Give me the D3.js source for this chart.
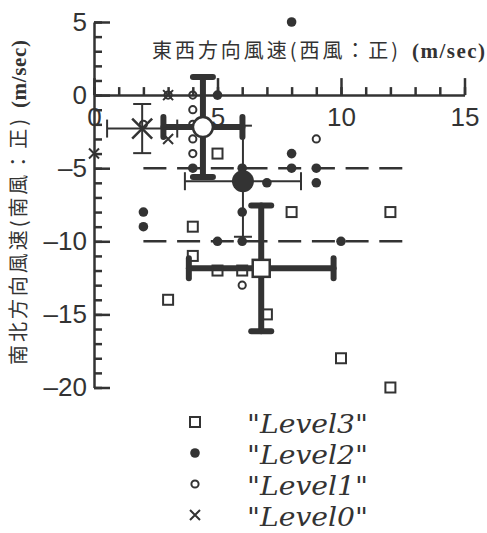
<!DOCTYPE html>
<html>
<head>
<meta charset="utf-8">
<script src="https://cdn.jsdelivr.net/npm/d3@7"></script>
<style>
body { margin: 0; background: #fff; }
</style>
</head>
<body>
<div id="chart"></div>
<script>
// scatter points per level [east-west, north-south] (m/sec)
var level3Pts = [[5,-4],[4,-9],[4,-11],[3,-14],[8,-8],[12,-8],[5,-12],[6,-12],[7,-15],[10,-18],[12,-20]];
var level2Pts = [[8,5],[5,0],[4,-5],[6,-5],[8,-5],[9,-5],[8,-4],[9,-6],[7,-6],[2,-8],[2,-9],[6,-8],[5,-10],[6,-10],[10,-10]];
var level1Pts = [[3,0],[4,0],[4,-1],[4,-2],[4,-3],[4,-4],[2,-2],[9,-3],[6,-13]];
var level0Pts = [[3,0],[3,-3],[0,-4]];

var levelNames = ["Level3", "Level2", "Level1", "Level0"];
// mean and spread per level, same order as levelNames
var meanX = [6.77, 6.03, 4.41, 1.95];
var meanY = [-11.85, -5.89, -2.19, -2.29];
var sdX = [2.93, 2.35, 1.6, 1.42];
var sdY = [4.3, 3.8, 3.42, 1.68];

var refY = [-5, -10];
var refX = [2, 12.5];
var xMajor = [0, 5, 10, 15];
var yMajor = [5, 0, -5, -10, -15, -20];

var ink = "#333";
var W = 487, H = 533;

var svg = d3.select("#chart").append("svg")
    .attr("width", W)
    .attr("height", H);

var x = d3.scaleLinear().domain([0, 15]).range([94, 464.5]);
var y = d3.scaleLinear().domain([5, -20]).range([22, 387.5]);

var tickFont = "'Liberation Sans', Arial, sans-serif";
var cjkFont = "'Noto Sans CJK JP', sans-serif";

// x axis (sits at y = 0, ticks pointing up)
svg.append("g")
    .attr("transform", "translate(0," + y(0) + ")")
    .call(d3.axisBottom(x).tickValues(d3.range(0, 16)).tickSizeInner(-8).tickSizeOuter(0).tickFormat(""));
var xMaj = svg.append("g")
    .attr("transform", "translate(0," + y(0) + ")")
    .call(d3.axisBottom(x).tickValues(xMajor).tickSizeInner(-17).tickSizeOuter(0).tickPadding(12).tickFormat(d3.format("d")));
xMaj.select(".domain").remove();

// y axis (ticks pointing right)
svg.append("g")
    .attr("transform", "translate(" + x(0) + ",0)")
    .call(d3.axisLeft(y).tickValues(d3.range(-20, 6)).tickSizeInner(-8).tickSizeOuter(0).tickFormat(""));
var yMaj = svg.append("g")
    .attr("transform", "translate(" + x(0) + ",0)")
    .call(d3.axisLeft(y).tickValues(yMajor).tickSizeInner(-16).tickSizeOuter(0).tickPadding(7)
        .tickFormat(function (d) { return d < 0 ? "\u2013" + Math.abs(d) : d; }));
yMaj.select(".domain").remove();

svg.selectAll(".domain, .tick line")
    .attr("stroke", ink)
    .attr("stroke-width", 2.5);
svg.selectAll(".tick text")
    .attr("fill", ink)
    .attr("font-family", tickFont)
    .attr("font-size", 26);

// dashed reference lines
svg.selectAll(".ref")
    .data(refY)
    .enter().append("line")
    .attr("class", "ref")
    .attr("x1", x(refX[0]))
    .attr("x2", x(refX[1]))
    .attr("y1", function (d) { return y(d); })
    .attr("y2", function (d) { return y(d); })
    .attr("stroke", ink)
    .attr("stroke-width", 2.5)
    .attr("stroke-dasharray", "23,10.7");

// axis titles
svg.append("text")
    .attr("x", 152)
    .attr("y", 58)
    .attr("font-family", cjkFont)
    .attr("font-size", 20)
    .attr("textLength", 246)
    .attr("lengthAdjust", "spacing")
    .attr("fill", ink)
    .text("東西方向風速(西風：正)");
svg.append("text")
    .attr("x", 412)
    .attr("y", 58)
    .attr("font-family", "'Liberation Serif', serif")
    .attr("font-size", 21)
    .attr("font-weight", "bold")
    .attr("textLength", 73)
    .attr("fill", ink)
    .text("(m/sec)");

svg.append("text")
    .attr("transform", "translate(26,365) rotate(-90)")
    .attr("font-family", cjkFont)
    .attr("font-size", 20)
    .attr("textLength", 246)
    .attr("lengthAdjust", "spacing")
    .attr("fill", ink)
    .text("南北方向風速(南風：正)");
svg.append("text")
    .attr("transform", "translate(26,108) rotate(-90)")
    .attr("font-family", "'Liberation Serif', serif")
    .attr("font-size", 21)
    .attr("font-weight", "bold")
    .attr("textLength", 68)
    .attr("fill", ink)
    .text("(m/sec)");

// error bars: Level3 and Level1 heavy, Level2 and Level0 light
var barW = [6, 2, 6, 2];
var capW = [20, 18, 20, 18];

var bars = svg.selectAll(".err")
    .data(levelNames)
    .enter().append("g")
    .attr("class", "err")
    .attr("stroke", ink)
    .attr("stroke-width", function (d, i) { return barW[i]; })
    .attr("stroke-linecap", function (d, i) { return barW[i] > 3 ? "round" : "butt"; });

bars.append("line")
    .attr("x1", function (d, i) { return x(meanX[i] - sdX[i]); })
    .attr("x2", function (d, i) { return x(meanX[i] + sdX[i]); })
    .attr("y1", function (d, i) { return y(meanY[i]); })
    .attr("y2", function (d, i) { return y(meanY[i]); });
bars.append("line")
    .attr("x1", function (d, i) { return x(meanX[i]); })
    .attr("x2", function (d, i) { return x(meanX[i]); })
    .attr("y1", function (d, i) { return y(meanY[i] + sdY[i]); })
    .attr("y2", function (d, i) { return y(meanY[i] - sdY[i]); });
[-1, 1].forEach(function (s) {
    bars.append("line")
        .attr("x1", function (d, i) { return x(meanX[i] + s * sdX[i]); })
        .attr("x2", function (d, i) { return x(meanX[i] + s * sdX[i]); })
        .attr("y1", function (d, i) { return y(meanY[i]) - capW[i] / 2; })
        .attr("y2", function (d, i) { return y(meanY[i]) + capW[i] / 2; });
    bars.append("line")
        .attr("x1", function (d, i) { return x(meanX[i]) - capW[i] / 2; })
        .attr("x2", function (d, i) { return x(meanX[i]) + capW[i] / 2; })
        .attr("y1", function (d, i) { return y(meanY[i] + s * sdY[i]); })
        .attr("y2", function (d, i) { return y(meanY[i] + s * sdY[i]); });
});

// marker drawing helper
function marker(g, kind, cx, cy, big) {
    if (kind === "Level3") {
        var h = big ? 8.5 : 5;
        g.append("rect")
            .attr("x", cx - h).attr("y", cy - h)
            .attr("width", 2 * h).attr("height", 2 * h)
            .attr("fill", big ? "#fff" : "none")
            .attr("stroke", ink).attr("stroke-width", big ? 2.5 : 2);
    } else if (kind === "Level2") {
        g.append("circle")
            .attr("cx", cx).attr("cy", cy)
            .attr("r", big ? 11 : 4.8)
            .attr("fill", ink);
    } else if (kind === "Level1") {
        g.append("circle")
            .attr("cx", cx).attr("cy", cy)
            .attr("r", big ? 10 : 3.6)
            .attr("fill", big ? "#fff" : "none")
            .attr("stroke", ink).attr("stroke-width", big ? 2.5 : 2);
    } else {
        var k = big ? 10 : 5;
        g.append("path")
            .attr("d", "M" + (cx - k) + "," + (cy - k) + "L" + (cx + k) + "," + (cy + k) +
                "M" + (cx - k) + "," + (cy + k) + "L" + (cx + k) + "," + (cy - k))
            .attr("stroke", ink).attr("stroke-width", big ? 2.5 : 2)
            .attr("fill", "none");
    }
}

var pts = [level3Pts, level2Pts, level1Pts, level0Pts];
var gPts = svg.append("g");
pts.forEach(function (arr, i) {
    arr.forEach(function (p) {
        marker(gPts, levelNames[i], x(p[0]), y(p[1]), false);
    });
});

// mean markers
var gMean = svg.append("g");
levelNames.forEach(function (name, i) {
    marker(gMean, name, x(meanX[i]), y(meanY[i]), true);
});

// legend
var legRowY = [422, 453, 484, 515];
var leg = svg.append("g");
levelNames.forEach(function (name, i) {
    marker(leg, name, 195, legRowY[i], false);
    leg.append("text")
        .attr("x", 247)
        .attr("y", legRowY[i] + 11)
        .attr("font-family", "'DejaVu Serif', serif")
        .attr("font-style", "italic")
        .attr("font-size", 26)
        .attr("textLength", 121)
        .attr("lengthAdjust", "spacingAndGlyphs")
        .attr("fill", ink)
        .text('"' + name + '"');
});
</script>
</body>
</html>
